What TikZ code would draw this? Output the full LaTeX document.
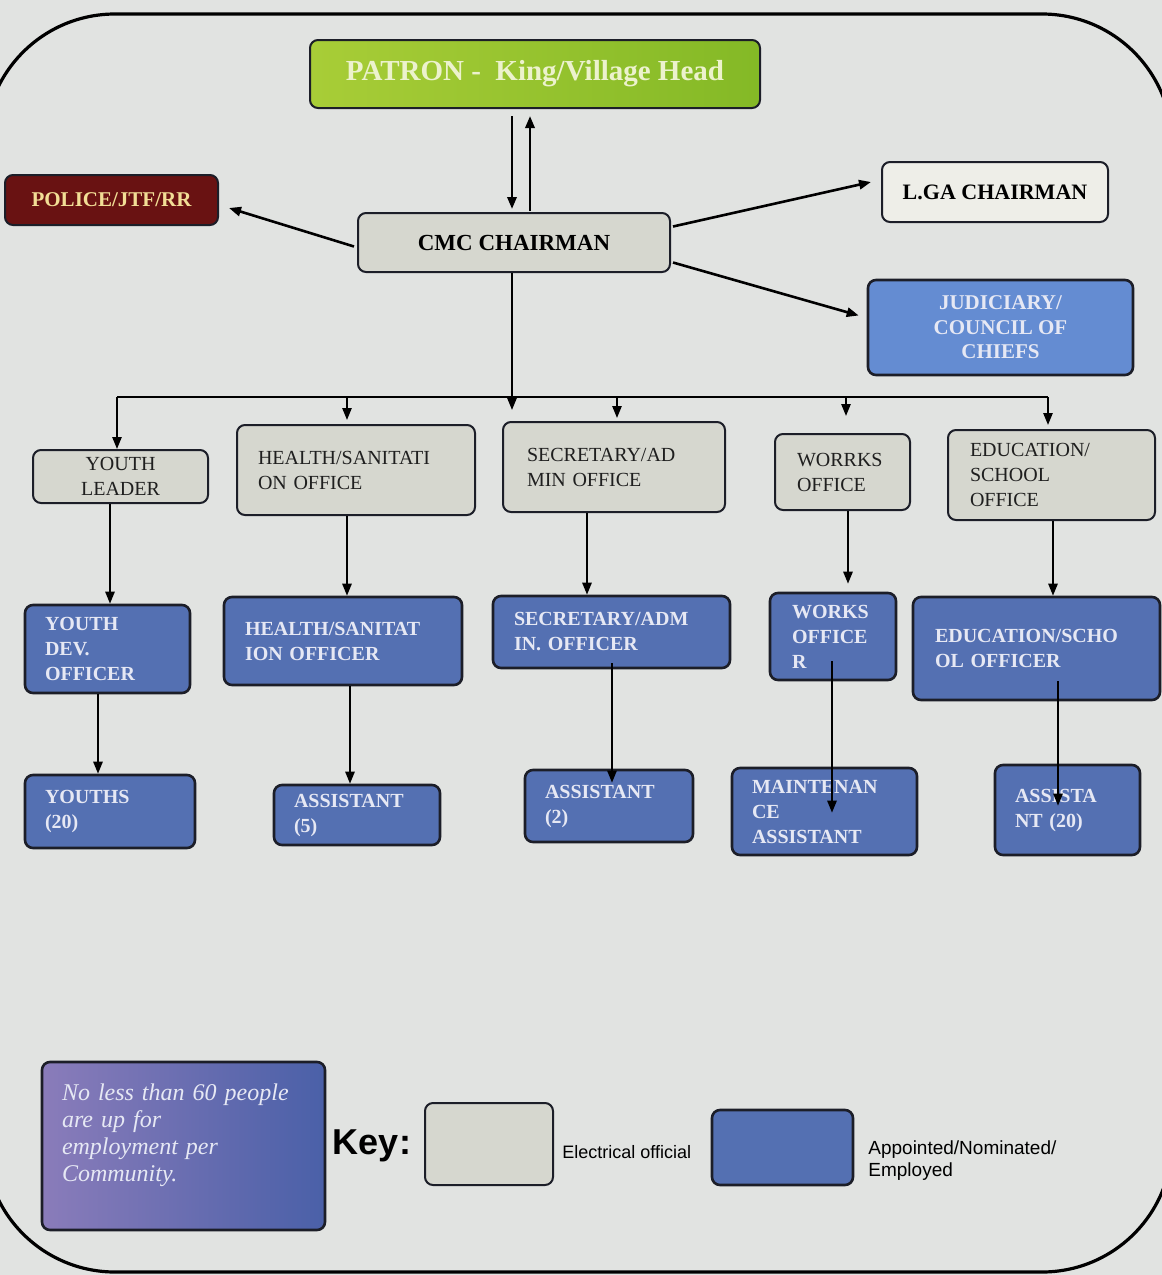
\documentclass[tikz,border=0pt]{standalone}
\usepackage{fontspec}
\setmainfont{Liberation Serif}
\setsansfont{Liberation Sans}
\usetikzlibrary{calc,arrows.meta}

\definecolor{pagebg}{RGB}{225,227,225}
\definecolor{greyfill}{RGB}{214,215,207}
\definecolor{palefill}{RGB}{238,238,232}
\definecolor{bluefill}{RGB}{84,112,178}
\definecolor{judfill}{RGB}{100,140,210}
\definecolor{edge}{RGB}{28,30,40}
\definecolor{bluetext}{RGB}{230,232,244}
\definecolor{policefill}{RGB}{105,18,18}
\definecolor{policetext}{RGB}{242,222,150}
\definecolor{patronL}{RGB}{168,205,55}
\definecolor{patronR}{RGB}{132,185,38}
\definecolor{patrontext}{RGB}{236,242,205}
\definecolor{noteL}{RGB}{138,124,186}
\definecolor{noteR}{RGB}{74,96,168}

\begin{document}
\begin{tikzpicture}[x=0.5pt,y=-0.5pt,
  box/.style={draw=edge, line width=1pt, rounded corners=4pt, inner ysep=0pt},
  greybox/.style={box, fill=greyfill, text=black!88,
    font=\fontsize{10}{12.5}\selectfont},
  bluebox/.style={box, fill=bluefill, line width=1.3pt, text=bluetext,
    font=\fontsize{10}{12.5}\selectfont\bfseries},
  csize/.style 2 args={minimum width=#1, minimum height=#2, align=center, inner xsep=0pt},
  lsize/.style n args={3}{text width=#1, inner xsep=#2, minimum height=#3, align=left},
  ln/.style={draw=black, line width=1pt},
  arr/.style={ln, -{Triangle[length=6pt,width=4.6pt]}},
  thick arr/.style={arr, line width=1.3pt}]

\useasboundingbox (0,0) rectangle (1162,1275);
\fill[pagebg] (0,0) rectangle (1162,1275);

% outer frame
\draw[line width=1.6pt, rounded corners=65pt] (-15,14) rectangle (1172,1272);

% top level
\node[box, csize={225}{34}, left color=patronL, right color=patronR,
  text=patrontext, font=\fontsize{14.5}{16}\selectfont\bfseries]
  (PATRON) at (535,74) {PATRON -\ \ King/Village Head};
\node[box, csize={156}{29.5}, fill=greyfill, font=\fontsize{11.5}{14}\selectfont\bfseries]
  (CMC) at (514,242.5) {CMC CHAIRMAN};
\node[box, csize={106.5}{25}, fill=policefill, text=policetext,
  font=\fontsize{10.5}{12}\selectfont\bfseries]
  (POLICE) at (111.5,200) {POLICE/JTF/RR};
\node[box, csize={113}{30}, fill=palefill, font=\fontsize{11}{13}\selectfont\bfseries]
  (LGA) at (995,192) {L.GA CHAIRMAN};
\node[box, csize={132.5}{47.5}, fill=judfill, line width=1.3pt, text=bluetext,
  font=\fontsize{10.5}{12.25}\selectfont\bfseries]
  (JUD) at (1000.5,327.5) {JUDICIARY/\\COUNCIL OF\\CHIEFS};

% offices
\node[greybox, csize={87.5}{26.5}] (YL) at (120.5,476.5) {YOUTH\\LEADER};
\node[greybox, lsize={98}{10.5pt}{45}] (HS) at (356,470) {HEALTH/SANITATI\\ON OFFICE};
\node[greybox, lsize={87}{12pt}{45}] (SA) at (614,467) {SECRETARY/AD\\MIN OFFICE};
\node[greybox, lsize={45.5}{11pt}{38}] (WO) at (842.5,472) {WORRKS\\OFFICE};
\node[greybox, lsize={81.5}{11pt}{45}] (ED) at (1051.5,475) {EDUCATION/\\SCHOOL\\OFFICE};

% officers
\node[bluebox, lsize={62.5}{10pt}{44}] (YD) at (107.5,649) {YOUTH\\DEV.\\OFFICER};
\node[bluebox, lsize={98}{10.5pt}{44}] (HO) at (343,641) {HEALTH/SANITAT\\ION OFFICER};
\node[bluebox, lsize={97.5}{10.5pt}{36}] (SO) at (611.5,632) {SECRETARY/ADM\\IN. OFFICER};
\node[bluebox, lsize={41}{11pt}{43.5}] (WK) at (833,636.5) {WORKS\\OFFICE\\R};
\node[bluebox, lsize={101.5}{11pt}{51.5}] (EO) at (1036.5,648.5) {EDUCATION/SCHO\\OL OFFICER};

% staff
\node[bluebox, lsize={65}{10pt}{36.5}] (YS) at (110,811.5) {YOUTHS\\(20)};
\node[bluebox, lsize={63}{10pt}{30}] (A5) at (357,815) {ASSISTANT\\(5)};
\node[bluebox, lsize={64}{10pt}{36}] (A2) at (609,806) {ASSISTANT\\(2)};
\node[bluebox, lsize={72.5}{10pt}{43.5}] (MA) at (824.5,811.5) {MAINTENAN\\CE\\ASSISTANT};
\node[bluebox, lsize={52.5}{10pt}{45}] (A20) at (1067.5,810) {ASSISTA\\NT (20)};

% key
\node[box, line width=1.3pt, lsize={121.5}{10pt}{84}, left color=noteL, right color=noteR,
  text=bluetext, font=\fontsize{12}{13.5}\selectfont\itshape]
  (NOTE) at (183.5,1146) {No less than 60 people\\are up for\\employment per\\Community.\\\mbox{}};
\node[font=\sffamily\bfseries\fontsize{18}{20}\selectfont, inner sep=0pt] (KEY) at (372,1146) {Key:};
\node[box, csize={64}{41}, fill=greyfill] (KG) at (489,1144) {};
\node[anchor=west, inner sep=0pt, font=\sffamily\fontsize{9}{11}\selectfont] (KGT) at (562,1152) {Electrical official};
\node[box, line width=1.3pt, csize={70.5}{37.5}, fill=bluefill] (KB) at (782.5,1147.5) {};
\node[anchor=west, inner sep=0pt, align=left, font=\sffamily\fontsize{9.5}{11}\selectfont] (KBT) at (868,1161) {Appointed/Nominated/\\Employed};

% CMC chairman links
\draw[thick arr] ($(PATRON.south)+(-23,7)$) -- ($(CMC.north)+(-2,-3)$);
\draw[thick arr] ($(CMC.north)+(16,-1)$) -- ($(PATRON.south)+(-5,7)$);
\draw[thick arr] ($(CMC.west)+(-3,4)$) -- ($(POLICE.east)+(10,8)$);
\draw[thick arr] ($(CMC.east)+(2,-16)$) -- ($(LGA.west)+(-10,-10)$);
\draw[thick arr] ($(CMC.east)+(2,20)$) -- ($(JUD.west)+(-8,-12)$);

% distribution bus
\coordinate (trunk) at (512,410);
\coordinate (b1) at (117,397);
\coordinate (b2) at (347,397);
\coordinate (b3) at (617,397);
\coordinate (b4) at (846,397);
\coordinate (b5) at (1048,397);
\draw[arr] (CMC.south -| trunk) -- (trunk);
\draw[ln] (b1) -- (b5);
\draw[arr] (b1) -- (b1 |- YL.north);
\draw[arr] (b2) -- ($(b2 |- HS.north)+(0,-4)$);
\draw[arr] (b3) -- ($(b3 |- SA.north)+(0,-3)$);
\draw[arr] (b4) -- ($(b4 |- WO.north)+(0,-17)$);
\draw[arr] (b5) -- ($(b5 |- ED.north)+(0,-4)$);

% office to officer
\coordinate (c1) at (110,0);
\coordinate (c2) at (347,0);
\coordinate (c3) at (587,0);
\coordinate (c4) at (848,0);
\coordinate (c5) at (1053,0);
\draw[arr] (YL.south -| c1) -- (YD.north -| c1);
\draw[arr] (HS.south -| c2) -- (HO.north -| c2);
\draw[arr] (SA.south -| c3) -- (SO.north -| c3);
\draw[arr] (WO.south -| c4) -- ($(WK.north -| c4)+(0,-8)$);
\draw[arr] (ED.south -| c5) -- (EO.north -| c5);

% officer to staff
\coordinate (d1) at (98,0);
\coordinate (d2) at (350,0);
\coordinate (d3) at (612,0);
\coordinate (d4) at (832,0);
\coordinate (d5) at (1058,0);
\draw[arr] (YD.south -| d1) -- (YS.north -| d1);
\draw[arr] (HO.south -| d2) -- (A5.north -| d2);
\draw[arr] ($(SO.south -| d3)+(0,-6)$) -- ($(A2.north -| d3)+(0,14)$);
\draw[arr] ($(WK.south -| d4)+(0,-20)$) -- ($(MA.north -| d4)+(0,46)$);
\draw[arr] ($(EO.south -| d5)+(0,-20)$) -- ($(A20.north -| d5)+(0,42)$);
\end{tikzpicture}
\end{document}
